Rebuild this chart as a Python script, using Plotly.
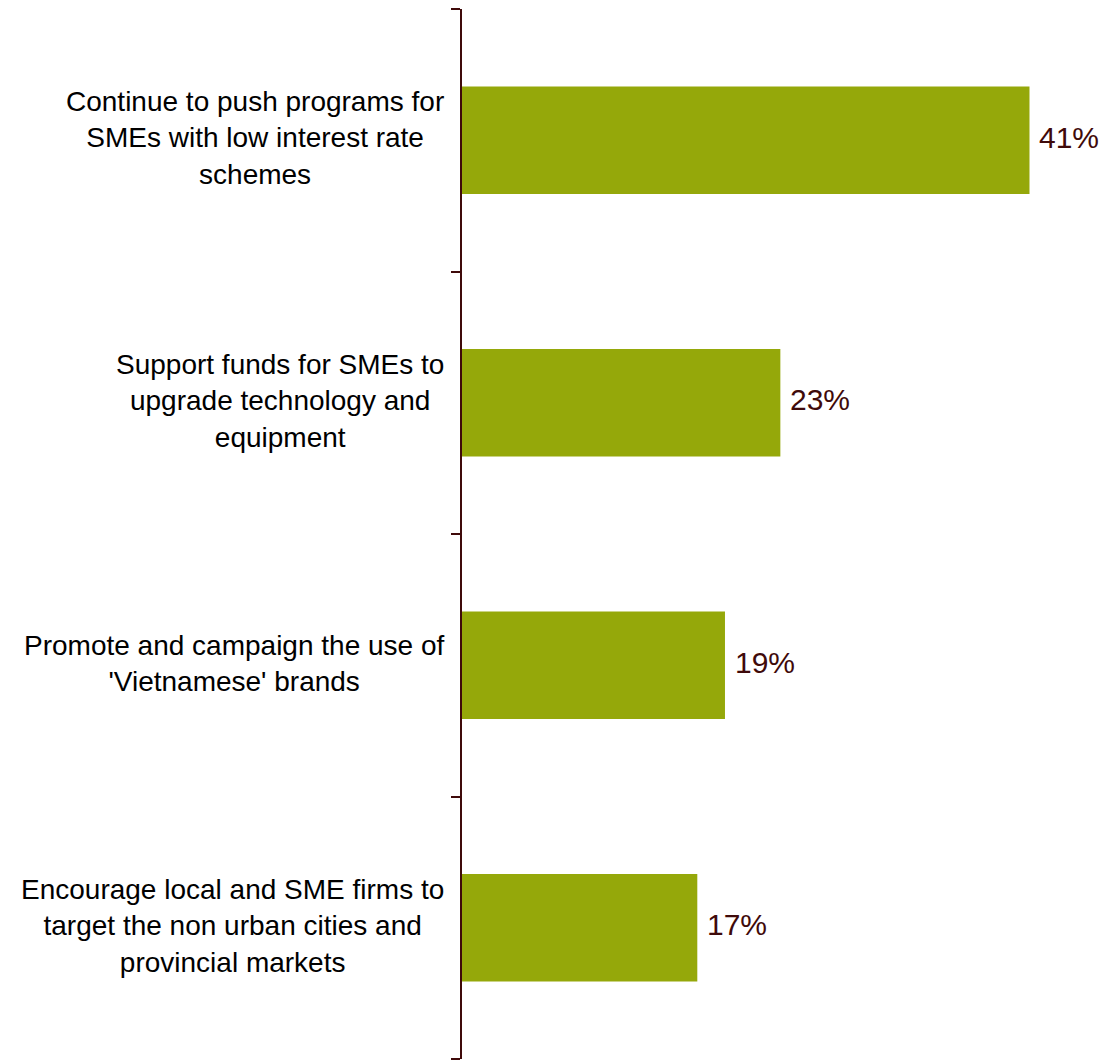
import plotly.graph_objects as go

categories = [
    "Continue to push programs for<br>SMEs with low interest rate<br>schemes",
    "Support funds for SMEs to<br>upgrade technology and<br>equipment",
    "Promote and campaign the use of<br>'Vietnamese' brands",
    "Encourage local and SME firms to<br>target the non urban cities and<br>provincial markets",
]
values = [41, 23, 19, 17]
value_labels = ["41%", "23%", "19%", "17%"]

bar_color = "#95A80A"
axis_color = "#3F0A0A"
label_color = "#3F0A0A"
font_family = "Liberation Sans, Arial, sans-serif"

fig = go.Figure()
fig.add_trace(go.Bar(
    y=categories,
    x=values,
    orientation="h",
    marker=dict(color=bar_color, line=dict(width=0)),
    width=0.41,
    hoverinfo="skip",
))

for c in categories:
    fig.add_annotation(
        x=0, xref="paper", y=c, yref="y",
        text=c, showarrow=False,
        xanchor="right", xshift=-16, yshift=2, align="center",
        font=dict(size=28, color="#000000", family=font_family),
    )

for c, v, t in zip(categories, values, value_labels):
    fig.add_annotation(
        x=v, xref="x", y=c, yref="y",
        text=t, showarrow=False,
        xanchor="left", xshift=8, yshift=3, align="left",
        font=dict(size=30, color=label_color, family=font_family),
    )

fig.update_layout(
    width=1099, height=1053,
    margin=dict(l=454, r=0, t=1, b=2),
    paper_bgcolor="white", plot_bgcolor="white",
    showlegend=False,
    xaxis=dict(range=[0, 46.6], visible=False, fixedrange=True),
    yaxis=dict(
        type="category",
        categoryorder="array",
        categoryarray=categories[::-1],
        range=[-0.5, 3.5],
        showline=True, linecolor=axis_color, linewidth=2,
        ticks="outside", tickson="boundaries", ticklen=9, tickwidth=2, tickcolor=axis_color,
        showticklabels=False, showgrid=False, zeroline=False,
    ),
)

fig.write_html("out.html")
